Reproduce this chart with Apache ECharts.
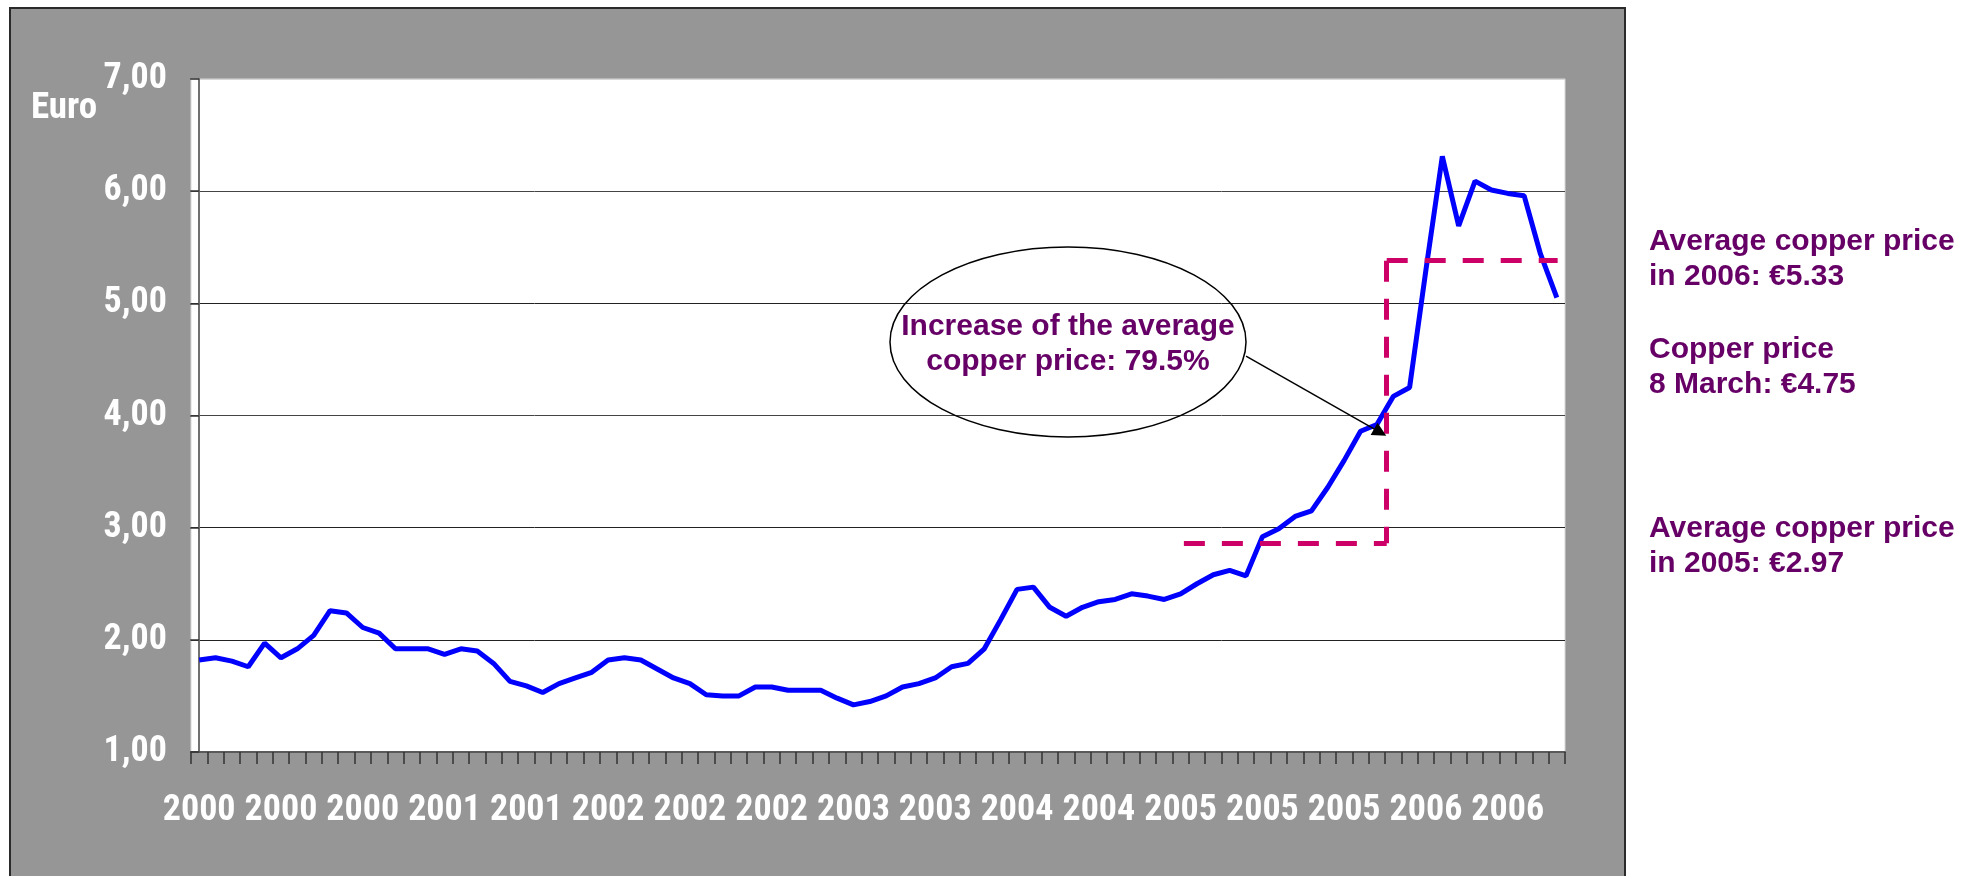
<!DOCTYPE html>
<html>
<head>
<meta charset="utf-8">
<title>Copper price</title>
<script src="https://cdn.jsdelivr.net/npm/echarts@6/dist/echarts.min.js"></script>
<style>
  html, body { margin: 0; padding: 0; background: #fff; }
  #chart { width: 1979px; height: 876px; }
</style>
</head>
<body>
<div id="chart"></div>
<script>
  // one category per month, Jan 2000 .. Dec 2006
  const months = [
    '2000', '2000', '2000', '2000', '2000', '2000', '2000', '2000', '2000', '2000', '2000', '2000',
    '2001', '2001', '2001', '2001', '2001', '2001', '2001', '2001', '2001', '2001', '2001', '2001',
    '2002', '2002', '2002', '2002', '2002', '2002', '2002', '2002', '2002', '2002', '2002', '2002',
    '2003', '2003', '2003', '2003', '2003', '2003', '2003', '2003', '2003', '2003', '2003', '2003',
    '2004', '2004', '2004', '2004', '2004', '2004', '2004', '2004', '2004', '2004', '2004', '2004',
    '2005', '2005', '2005', '2005', '2005', '2005', '2005', '2005', '2005', '2005', '2005', '2005',
    '2006', '2006', '2006', '2006', '2006', '2006', '2006', '2006', '2006', '2006', '2006', '2006'
  ];

  // copper price in euro
  const price = [
    1.82, 1.84, 1.81, 1.76, 1.97, 1.84, 1.92, 2.04, 2.26, 2.24, 2.11, 2.06,
    1.92, 1.92, 1.92, 1.87, 1.92, 1.90, 1.79, 1.63, 1.59, 1.53, 1.61, 1.66,
    1.71, 1.82, 1.84, 1.82, 1.74, 1.66, 1.61, 1.51, 1.50, 1.50, 1.58, 1.58,
    1.55, 1.55, 1.55, 1.48, 1.42, 1.45, 1.50, 1.58, 1.61, 1.66, 1.76, 1.79,
    1.92, 2.18, 2.45, 2.47, 2.29, 2.21, 2.29, 2.34, 2.36, 2.41, 2.39, 2.36,
    2.41, 2.50, 2.58, 2.62, 2.57, 2.92, 2.99, 3.10, 3.15, 3.36, 3.60, 3.86,
    3.92, 4.17, 4.25, 5.30, 6.31, 5.69, 6.09, 6.01, 5.98, 5.96, 5.44, 5.05
  ];

  // dashed average levels, x in month index
  const avg2005 = { from: 60.2, to: 72.6, level: 2.86 };
  const avg2006 = { from: 72.6, to: 83.05, level: 5.38 };
  // arrow from the ellipse to the curve
  const arrowFrom = [64.0, 4.53];
  const arrowTo = [72.2, 3.85];

  const noteLines = [
    'Average copper price\nin 2006: \u20ac5.33',
    'Copper price\n8 March: \u20ac4.75',
    'Average copper price\nin 2005: \u20ac2.97'
  ];
  const bubbleText = 'Increase of the average\ncopper price: 79.5%';

  const narrow = "'Roboto Condensed', 'Open Sans', sans-serif";
  const plain = "'Liberation Sans', Arial, sans-serif";
  const purple = '#660066';

  const chart = echarts.init(document.getElementById('chart'));
  chart.setOption({
    animation: false,
    grid: {
      left: 191, right: 414, top: 79, bottom: 124,
      show: true, backgroundColor: '#fff', borderWidth: 1, borderColor: '#d8d8d8'
    },
    graphic: [
      {
        type: 'rect', z: -10,
        shape: { x: 10, y: 8, width: 1615, height: 900 },
        style: { fill: '#969696', stroke: '#2a2a2a', lineWidth: 2 }
      },
      {
        type: 'text', z: 100,
        style: { text: 'Euro', x: 31, y: 109, fill: '#fff', fontFamily: narrow, fontWeight: 'bold', fontSize: 37, verticalAlign: 'middle' }
      },
      {
        type: 'ellipse', z: 90,
        shape: { cx: 1068, cy: 342, rx: 178, ry: 95 },
        style: { fill: 'none', stroke: '#000', lineWidth: 1.5 }
      },
      {
        type: 'text', z: 100,
        style: { text: bubbleText, x: 1068, y: 344, fill: purple, fontFamily: plain, fontWeight: 'bold', fontSize: 30, lineHeight: 35, align: 'center', verticalAlign: 'middle' }
      },
      {
        type: 'text', z: 100,
        style: { text: noteLines[0], x: 1649, y: 259, fill: purple, fontFamily: plain, fontWeight: 'bold', fontSize: 30, lineHeight: 35, verticalAlign: 'middle' }
      },
      {
        type: 'text', z: 100,
        style: { text: noteLines[1], x: 1649, y: 367, fill: purple, fontFamily: plain, fontWeight: 'bold', fontSize: 30, lineHeight: 35, verticalAlign: 'middle' }
      },
      {
        type: 'text', z: 100,
        style: { text: noteLines[2], x: 1649, y: 546, fill: purple, fontFamily: plain, fontWeight: 'bold', fontSize: 30, lineHeight: 35, verticalAlign: 'middle' }
      }
    ],
    xAxis: [
      {
        type: 'category',
        data: months,
        boundaryGap: true,
        axisLine: { show: true, lineStyle: { color: '#5a5a5a', width: 2 } },
        axisTick: { show: true, interval: 0, length: 12, lineStyle: { color: '#333', width: 1.5 } },
        axisLabel: {
          interval: 4, showMinLabel: true, color: '#fff',
          fontFamily: narrow, fontWeight: 'bold', fontSize: 36, margin: 41
        },
        splitLine: { show: false }
      },
      { type: 'value', min: -0.5, max: 83.5, show: false, position: 'top' }
    ],
    yAxis: {
      type: 'value',
      min: 1,
      max: 7,
      interval: 1,
      axisLine: { show: true, lineStyle: { color: '#707070', width: 2 } },
      axisTick: { show: true, length: 9, lineStyle: { color: '#333', width: 1.5 } },
      axisLabel: {
        color: '#fff', fontFamily: narrow, fontWeight: 'bold', fontSize: 36, margin: 24,
        formatter: v => v.toFixed(2).replace('.', ',')
      },
      splitLine: {
        show: true,
        lineStyle: { color: ['#222', '#222', '#222', '#444', '#222', '#444', '#d8d8d8'], width: 1 }
      }
    },
    series: [
      {
        name: 'Copper price',
        type: 'line',
        data: price,
        symbol: 'none',
        z: 3,
        lineStyle: { color: '#0000ff', width: 5 }
      },
      {
        name: 'Averages',
        type: 'line',
        xAxisIndex: 1,
        data: [],
        markLine: {
          silent: true,
          symbol: ['none', 'none'],
          label: { show: false },
          lineStyle: { color: '#cc0066', width: 5, type: [21, 17] },
          data: [
            [{ coord: [avg2005.from, avg2005.level] }, { coord: [avg2005.to, avg2005.level] }],
            [{ coord: [avg2006.from, avg2006.level] }, { coord: [avg2005.to, avg2005.level] }],
            [{ coord: [avg2006.from, avg2006.level] }, { coord: [avg2006.to, avg2006.level] }]
          ]
        }
      },
      {
        name: 'Arrow',
        type: 'line',
        xAxisIndex: 1,
        data: [],
        z: 5,
        markLine: {
          silent: true,
          symbol: ['none', 'triangle'],
          symbolSize: 14,
          label: { show: false },
          lineStyle: { color: '#000', width: 1.5, type: 'solid' },
          data: [[{ coord: arrowFrom }, { coord: arrowTo }]]
        }
      }
    ]
  });
</script>
</body>
</html>
